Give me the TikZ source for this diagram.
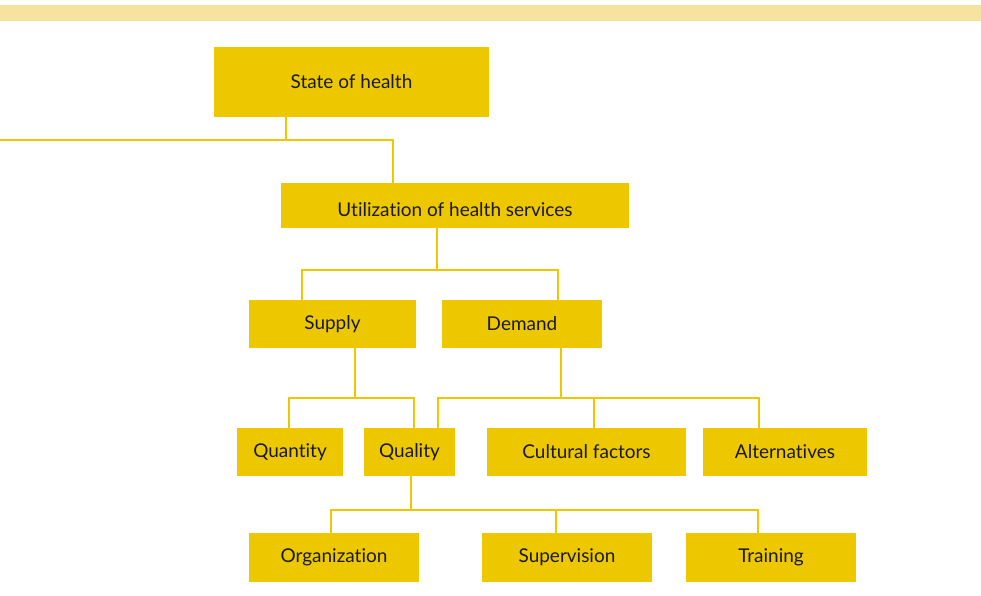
\documentclass[tikz,border=0pt]{standalone}
\usepackage{fontspec}
\setmainfont{Lato}[Ligatures=NoCommon]
\usepackage{xcolor}
\usepackage{tikz}

\definecolor{gold}{RGB}{237,200,0}
\definecolor{paleband}{RGB}{247,227,160}
\definecolor{ink}{RGB}{25,25,25}

\begin{document}
\begin{tikzpicture}[x=0.025cm, y=-0.025cm,
    box/.style={rectangle, fill=gold, inner sep=0pt, text=ink,
                font=\fontsize{13.5}{16}\selectfont},
    size/.style 2 args={minimum width=#1*0.025cm, minimum height=#2*0.025cm},
    link/.style={draw=gold, line width=1.5pt}]
    \useasboundingbox (0,0) rectangle (981,595);
    % Top band
    \fill[paleband] (0,5) rectangle (981,21);

    % Boxes
    \node[box, size={275}{70}] (health) at (351.5,82) {State of health};
    \node[box, size={348}{45}, text height=15pt, text depth=0pt] (util) at (455,205.5) {Utilization of health services};
    \node[box, size={167}{48}] (supply) at (332.5,324) {Supply};
    \node[box, size={160}{48}] (demand) at (522,324) {Demand};
    \node[box, size={106}{48}] (quantity) at (290,452) {Quantity};
    \node[box, size={91}{48}] (quality) at (409.5,452) {Quality};
    \node[box, size={199}{48}] (cultural) at (586.5,452) {Cultural factors};
    \node[box, size={164}{48}] (altern) at (785,452) {Alternatives};
    \node[box, size={170}{49}] (organiz) at (334,557.5) {Organization};
    \node[box, size={170}{49}] (superv) at (567,557.5) {Supervision};
    \node[box, size={170}{49}] (training) at (771,557.5) {Training};

    % Junctions
    \coordinate (j1) at (286,140);
    \coordinate (j1l) at (0,140);
    \coordinate (j1r) at (393,140);
    \coordinate (j2) at (437,270);
    \coordinate (j2l) at (302,270);
    \coordinate (j2r) at (558,270);
    \coordinate (j3) at (355,398);
    \coordinate (j3l) at (289,398);
    \coordinate (j3r) at (414,398);
    \coordinate (j4) at (561,398);
    \coordinate (j4l) at (438,398);
    \coordinate (j4m) at (594,398);
    \coordinate (j4r) at (759,398);
    \coordinate (j5) at (411,510);
    \coordinate (j5l) at (331,510);
    \coordinate (j5m) at (556,510);
    \coordinate (j5r) at (758,510);

    % Connectors
    \draw[link] (health.south -| j1) -- (j1);
    \draw[link] (j1l) -- (j1r) -- (util.north -| j1r);
    \draw[link] (util.south -| j2) -- (j2);
    \draw[link] (supply.north -| j2l) -- (j2l) -- (j2r) -- (demand.north -| j2r);
    \draw[link] (supply.south -| j3) -- (j3);
    \draw[link] (quantity.north -| j3l) -- (j3l) -- (j3r) -- (quality.north -| j3r);
    \draw[link] (demand.south -| j4) -- (j4);
    \draw[link] (quality.north -| j4l) -- (j4l) -- (j4r) -- (altern.north -| j4r);
    \draw[link] (j4m) -- (cultural.north -| j4m);
    \draw[link] (quality.south -| j5) -- (j5);
    \draw[link] (organiz.north -| j5l) -- (j5l) -- (j5r) -- (training.north -| j5r);
    \draw[link] (j5m) -- (superv.north -| j5m);
\end{tikzpicture}
\end{document}
